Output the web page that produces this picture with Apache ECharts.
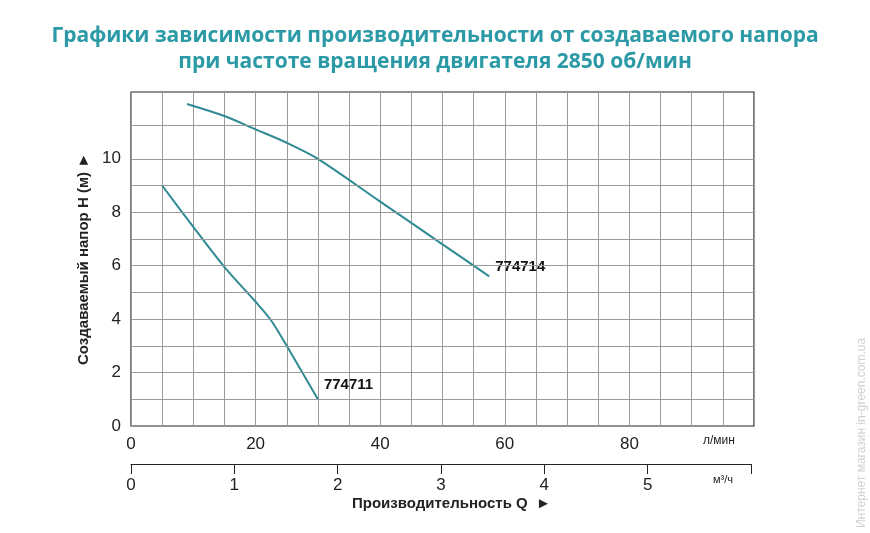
<!DOCTYPE html>
<html>
<head>
<meta charset="utf-8">
<script src="https://cdn.jsdelivr.net/npm/echarts@6/dist/echarts.min.js"></script>
<style>html,body{margin:0;padding:0;background:#fff}#c{width:870px;height:533px}</style>
</head>
<body>
<div id="c"></div>
<script>
// данные кривых (л/мин -> м)
const q774714 = [9, 15, 20, 25, 30, 40, 50, 57.5]
const h774714 = [12.05, 11.6, 11.1, 10.6, 10, 8.4, 6.8, 5.6]
const q774711 = [5, 10, 15, 20, 22.5, 25, 30]
const h774711 = [9, 7.45, 5.95, 4.65, 3.95, 3.0, 1.0]
const gridY = [1, 2, 3, 4, 5, 6, 7, 8, 9, 10, 11.25]
const lineColor = '#2f8a94'

const pairs = (xs, ys) => xs.map((x, i) => [x, ys[i]])

function curve (name, xs, ys, dx, dy) {
  return {
    type: 'line', name, smooth: 0.3, symbol: 'none',
    lineStyle: { color: lineColor, width: 2 },
    endLabel: {
      show: true, formatter: name, offset: [dx, dy], distance: 6,
      fontFamily: 'Liberation Sans', fontWeight: 'bold', fontSize: 15, color: '#111'
    },
    data: pairs(xs, ys)
  }
}

const chart = echarts.init(document.getElementById('c'))
chart.setOption({
  animation: false,
  title: {
    text: 'Графики зависимости производительности от создаваемого напора\nпри частоте вращения двигателя 2850 об/мин',
    left: 'center', top: 18,
    textStyle: { color: '#2b9aa6', fontFamily: 'Open Sans', fontWeight: 'bold', fontSize: 21, lineHeight: 26 }
  },
  graphic: [
    { type: 'text', left: 703, top: 435, style: { text: 'л/мин', fontFamily: 'Liberation Sans', fontSize: 12, fill: '#222' } },
    { type: 'text', left: 713, top: 474, style: { text: 'м³/ч', fontFamily: 'Liberation Sans', fontSize: 11, fill: '#222' } },
    { type: 'text', left: 352, top: 496, style: { text: 'Производительность Q  ►', fontFamily: 'Liberation Sans', fontWeight: 'bold', fontSize: 15, fill: '#222' } },
    { type: 'text', x: 856, y: 528, rotation: Math.PI / 2, style: { text: 'Интернет магазин in-green.com.ua', fontFamily: 'Liberation Sans', fontSize: 12, fill: '#d0d0d0' } }
  ],
  grid: [
    { left: 131, top: 92, right: 116, bottom: 107, show: true, borderColor: '#222', borderWidth: 1.2 },
    { left: 131, top: 463, right: 119, height: 1 }
  ],
  xAxis: [
    {
      type: 'value', gridIndex: 0, min: 0, max: 100, interval: 5,
      axisLine: { show: false }, axisTick: { show: false },
      splitLine: { show: true, lineStyle: { color: '#9a9a9a', width: 1 } },
      axisLabel: {
        margin: 10, fontFamily: 'Liberation Sans', fontSize: 17, color: '#222',
        formatter: v => (v % 20 === 0 && v < 100) ? String(v) : ''
      }
    },
    {
      type: 'value', gridIndex: 1, min: 0, max: 6, interval: 1, position: 'top',
      axisLine: { show: true, lineStyle: { color: '#222', width: 1.2 } },
      axisTick: { show: true, inside: true, length: 10, lineStyle: { color: '#222' } },
      splitLine: { show: false },
      axisLabel: {
        inside: true, margin: 14, verticalAlign: 'top', fontFamily: 'Liberation Sans', fontSize: 17, color: '#222',
        formatter: v => v < 6 ? String(v) : ''
      }
    }
  ],
  yAxis: [
    {
      type: 'value', gridIndex: 0, min: 0, max: 12.5, interval: 2,
      axisLine: { show: false }, axisTick: { show: false }, splitLine: { show: false },
      axisLabel: { margin: 10, fontFamily: 'Liberation Sans', fontSize: 17, color: '#222',
        formatter: v => v <= 10 ? String(v) : '' },
      name: 'Создаваемый напор H (м) ►', nameLocation: 'middle', nameGap: 36, nameRotate: 90,
      nameTextStyle: { fontFamily: 'Liberation Sans', fontWeight: 'bold', fontSize: 15, color: '#222' }
    },
    { type: 'value', gridIndex: 1, show: false, min: 0, max: 1 }
  ],
  series: [
    {
      type: 'line', xAxisIndex: 0, yAxisIndex: 0, data: [], silent: true,
      markLine: {
        symbol: 'none', silent: true, label: { show: false },
        lineStyle: { color: '#9a9a9a', type: 'solid', width: 1 },
        data: gridY.map(y => ({ yAxis: y }))
      }
    },
    curve('774714', q774714, h774714, 0, -10),
    curve('774711', q774711, h774711, 0, -14)
  ]
})
</script>
</body>
</html>
